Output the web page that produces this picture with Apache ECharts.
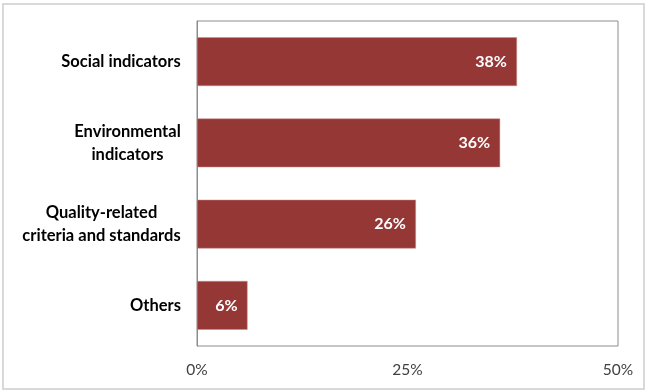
<!DOCTYPE html>
<html>
<head>
<meta charset="utf-8">
<script src="https://cdn.jsdelivr.net/npm/echarts@6/dist/echarts.min.js"></script>
<style>
  html, body { margin: 0; padding: 0; background: #fff; }
  #frame { position: absolute; left: 2px; top: 3px; width: 639px; height: 383px; border: 2px solid #d9d9d9; }
  #chart { position: absolute; left: 0; top: 0; width: 645px; height: 390px; }
</style>
</head>
<body>
<div id="frame"></div>
<div id="chart"></div>
<script>
const categories = ['Social indicators', 'Environmental\nindicators', 'Quality-related\ncriteria and standards', 'Others'];
const shares = [38, 36, 26, 6];
const xTicks = [0, 25, 50];

const fontStack = 'Lato, "Open Sans", sans-serif';
const catFontSize = 16.5;

// Multi-line category names are centred line-by-line inside a right-aligned block.
const measure = document.createElement('canvas').getContext('2d');
measure.font = 'bold ' + catFontSize + 'px ' + fontStack;
const rich = {};
categories.forEach((name, i) => {
  const w = Math.max(...name.split('\n').map(l => measure.measureText(l).width));
  rich['c' + i] = { width: Math.ceil(w), align: 'center', color: '#000', fontWeight: 'bold', fontFamily: fontStack, fontSize: catFontSize, lineHeight: 23 };
});

const chart = echarts.init(document.getElementById('chart'), null, { renderer: 'canvas' });
chart.setOption({
  animation: false,
  grid: { left: 197, right: 27, top: 21, bottom: 44, show: true, borderColor: '#8c8c8c', borderWidth: 1, backgroundColor: 'transparent' },
  xAxis: {
    type: 'value', min: xTicks[0], max: xTicks[xTicks.length - 1], interval: 25,
    axisLine: { show: false }, axisTick: { show: false }, splitLine: { show: false },
    axisLabel: { formatter: '{value}%', color: '#404040', fontFamily: fontStack, fontSize: 15.5, margin: 16 }
  },
  yAxis: {
    type: 'category', data: categories, inverse: true,
    axisLine: { show: true, lineStyle: { color: '#8c8c8c' } }, axisTick: { show: false },
    axisLabel: {
      color: '#000', fontWeight: 'bold', fontFamily: fontStack, fontSize: catFontSize, lineHeight: 23, margin: 16, align: 'right',
      formatter: (value, index) => value.split('\n').map(l => '{c' + index + '|' + l + '}').join('\n'),
      rich: rich
    }
  },
  series: [{
    type: 'bar', data: shares, barCategoryGap: '40%',
    itemStyle: { color: '#953735', borderColor: '#c98c8b', borderWidth: 0.5 },
    label: { show: true, position: 'insideRight', formatter: '{c}%', color: '#fff', fontWeight: 'bold', fontFamily: fontStack, fontSize: 16, distance: 10 }
  }]
});
</script>
</body>
</html>
